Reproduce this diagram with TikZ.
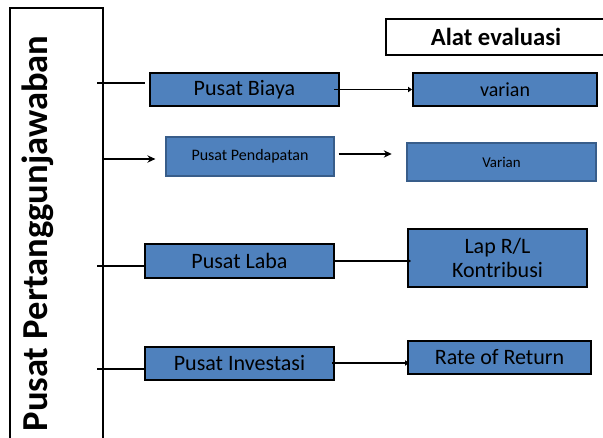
\documentclass[tikz,border=0pt]{standalone}
\usepackage{fontspec}
\setmainfont{Carlito}
\usetikzlibrary{arrows.meta}
\definecolor{boxblue}{HTML}{4F81BD}
\definecolor{boxedge}{HTML}{385D8A}
\tikzset{
  frameline/.style={line width=1.5pt, draw=black},
  bluebox/.style={draw=black, line width=1.5pt, fill=boxblue, inner sep=0pt, align=center,
    font=\fontsize{16.5}{17.5}\selectfont},
  softbox/.style={draw=boxedge, line width=0.9pt, fill=boxblue, inner sep=0pt, align=center},
  titlebox/.style={draw=black, line width=1.3pt, fill=white, inner sep=0pt,
    font=\bfseries\fontsize{18.5}{20}\selectfont},
  conn/.style={line width=1.3pt, draw=black},
  smallarrow/.style={conn, -{Triangle[length=3pt,width=4pt]}},
  bigarrow/.style={conn, -{Stealth[length=6pt,width=5.5pt]}},
}
\begin{document}
\begin{tikzpicture}[x=0.75pt,y=-0.75pt]
\clip (0,0) rectangle (603,437);
\fill[white] (0,0) rectangle (603,437);
% left frame
\draw[frameline] (10,450) -- (10,8) -- (103,8) -- (103,450);
\node[rotate=90, anchor=base, font=\bfseries\fontsize{27.4}{30}\selectfont] (title) at (47,233.5) {Pusat Pertanggunjawaban};
\coordinate (t1) at (97,83);
\coordinate (p2) at (103,159);
\coordinate (t3) at (97,266);
\coordinate (t4) at (97,369);
% header
\node[titlebox, minimum width=165pt, minimum height=27pt] (alat) at (496,37) {Alat evaluasi};
% boxes
\node[bluebox, minimum width=141.75pt, minimum height=24.75pt] (biaya) at (244.5,89.5) {Pusat Biaya};
\node[bluebox, minimum width=138pt, minimum height=24.75pt, font=\fontsize{15}{16}\selectfont] (varian) at (505,89.5) {varian};
\node[softbox, minimum width=126pt, minimum height=29.25pt, font=\fontsize{12}{13}\selectfont] (pend) at (250,156.5) {Pusat Pendapatan};
\node[softbox, minimum width=141.75pt, minimum height=28.5pt, font=\fontsize{11.2}{12}\selectfont] (var2) at (501.5,162) {Varian};
\node[bluebox, minimum width=141.75pt, minimum height=25.5pt] (laba) at (239.5,261) {Pusat Laba};
\node[bluebox, minimum width=134.25pt, minimum height=43.5pt] (lap) at (497.5,258) {Lap R/L\\Kontribusi};
\node[bluebox, minimum width=141.75pt, minimum height=24.75pt] (inv) at (239.5,363.5) {Pusat Investasi};
\node[bluebox, minimum width=137.25pt, minimum height=24.75pt] (rate) at (499.5,357.5) {Rate of Return};
% ticks from frame
\draw[conn, shorten >=3pt] (t1) -- (t1 -| biaya.west);
\draw[bigarrow, shorten >=7.5pt] (p2) -- (p2 -| pend.west);
\draw[conn] (t3) -- (t3 -| laba.west);
\draw[conn] (t4) -- (t4 -| inv.west);
% evaluation arrows
\draw[smallarrow, shorten <=-4.5pt] (biaya.east) -- (biaya.east -| varian.west);
\draw[bigarrow, shorten <=3pt, shorten >=11pt] ([yshift=1.9pt]pend.east) -- ([yshift=1.9pt]pend.east -| var2.west);
\draw[smallarrow, shorten <=-0.8pt, shorten >=-3pt] (laba.east) -- (laba.east -| lap.west);
\draw[smallarrow, shorten <=-2pt, shorten >=-1.5pt] ([yshift=0.4pt]inv.east) -- ([yshift=0.4pt]inv.east -| rate.west);
\end{tikzpicture}
\end{document}
